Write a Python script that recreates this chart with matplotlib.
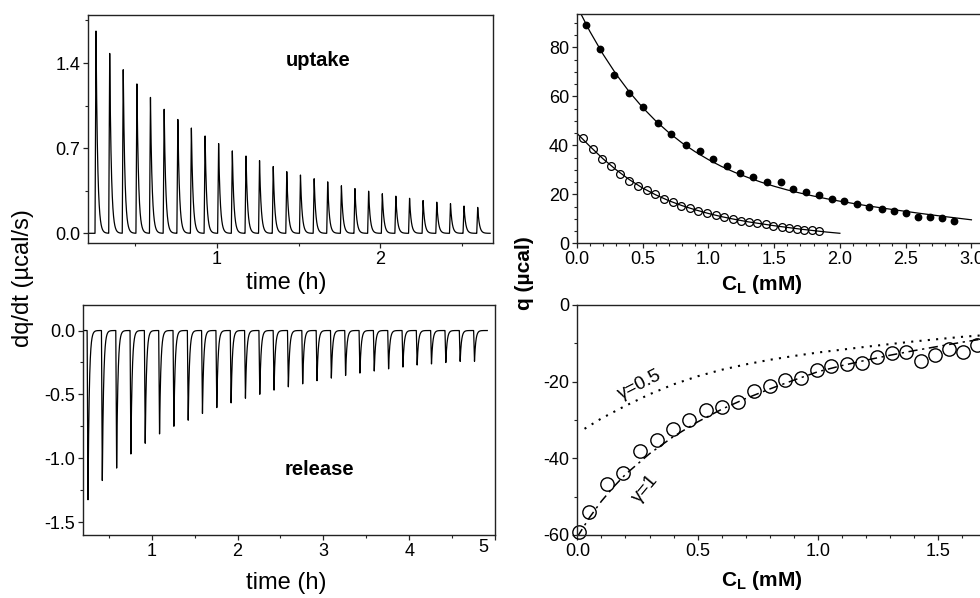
#ITC thermograms and integrated heats

#importing the libraries
import numpy as np
import matplotlib
matplotlib.use('Agg')
import matplotlib.pyplot as plt
from matplotlib.ticker import MultipleLocator, FormatStrFormatter

plt.rcParams['font.family'] = ['Liberation Sans', 'DejaVu Sans']
plt.rcParams['axes.unicode_minus'] = False
plt.rcParams['mathtext.fontset'] = 'custom'
plt.rcParams['mathtext.rm'] = 'Liberation Sans'
plt.rcParams['mathtext.bf'] = 'Liberation Sans:bold'

#uptake thermogram: injection times (h) and peak heights (ucal/s)
uptake_t = [0.258, 0.342, 0.425, 0.509, 0.592, 0.676, 0.760, 0.843, 0.927, 1.010,
            1.094, 1.178, 1.261, 1.345, 1.428, 1.512, 1.596, 1.679, 1.763, 1.846,
            1.930, 2.014, 2.097, 2.181, 2.264, 2.348, 2.432, 2.515, 2.599]
uptake_h = [1.672, 1.495, 1.359, 1.229, 1.120, 1.028, 0.946, 0.870, 0.802, 0.742,
            0.685, 0.639, 0.598, 0.552, 0.511, 0.484, 0.449, 0.424, 0.394, 0.372,
            0.348, 0.326, 0.307, 0.291, 0.272, 0.256, 0.245, 0.226, 0.215]

#release thermogram
release_t = [0.257, 0.424, 0.591, 0.757, 0.924, 1.091, 1.258, 1.425, 1.591, 1.758,
             1.925, 2.092, 2.259, 2.425, 2.592, 2.759, 2.926, 3.093, 3.259, 3.426,
             3.593, 3.760, 3.927, 4.093, 4.260, 4.427, 4.594, 4.761]
release_h = [-1.338, -1.186, -1.081, -0.971, -0.890, -0.819, -0.754, -0.702, -0.654, -0.610,
             -0.571, -0.531, -0.500, -0.471, -0.445, -0.419, -0.393, -0.374, -0.356, -0.335,
             -0.317, -0.301, -0.288, -0.272, -0.262, -0.251, -0.243, -0.243]

#integrated heats, uptake (filled) and release... (open), top right
cl_filled = [0.068, 0.177, 0.286, 0.400, 0.506, 0.615, 0.719, 0.828, 0.934, 1.038,
             1.144, 1.241, 1.342, 1.443, 1.549, 1.646, 1.742, 1.841, 1.937, 2.033,
             2.132, 2.223, 2.319, 2.413, 2.501, 2.595, 2.684, 2.775, 2.866]
q_filled = [89.1, 79.2, 68.8, 61.5, 55.5, 49.3, 44.5, 40.3, 37.8, 34.3,
            31.7, 28.8, 27.2, 25.0, 25.0, 22.3, 21.0, 19.6, 18.0, 17.3,
            16.2, 15.0, 14.0, 13.1, 12.5, 10.7, 10.7, 10.2, 9.3]
cl_open = [0.051, 0.124, 0.190, 0.258, 0.329, 0.397, 0.463, 0.532, 0.595, 0.661,
           0.729, 0.795, 0.861, 0.924, 0.990, 1.056, 1.119, 1.185, 1.248, 1.311,
           1.372, 1.435, 1.494, 1.557, 1.615, 1.673, 1.729, 1.787, 1.843]
q_open = [43.1, 38.4, 34.6, 31.7, 28.2, 25.6, 23.4, 21.8, 20.1, 18.0,
          16.7, 15.2, 14.6, 13.2, 12.2, 11.6, 10.6, 9.9, 9.0, 8.8,
          8.2, 7.8, 7.2, 6.7, 6.3, 5.8, 5.6, 5.3, 4.9]

#fit curves
fit1_c = [0.0, 0.1, 0.2, 0.3, 0.4, 0.5, 0.6, 0.7, 0.8, 0.9, 1.0, 1.1, 1.2, 1.3,
          1.4, 1.5, 1.6, 1.7, 1.8, 1.9, 2.0, 2.2, 2.4, 2.6, 2.8, 3.0]
fit1_q = [97.0, 86.5, 77.2, 69.0, 61.8, 55.5, 50.0, 45.2, 41.0, 37.4, 34.2, 31.4, 29.0, 26.9,
          25.0, 23.3, 21.8, 20.5, 19.3, 18.2, 17.2, 15.4, 13.8, 12.3, 10.9, 9.6]
fit2_c = [0.0, 0.1, 0.2, 0.3, 0.4, 0.5, 0.6, 0.7, 0.8, 0.9, 1.0,
          1.1, 1.2, 1.3, 1.4, 1.5, 1.6, 1.7, 1.8, 1.9, 2.0]
fit2_q = [45.0, 39.6, 34.5, 30.0, 26.0, 22.6, 19.8, 17.4, 15.4, 13.7, 12.2,
          10.9, 9.8, 8.8, 8.0, 7.2, 6.5, 5.8, 5.2, 4.6, 4.1]

#bottom right: release heats and two model curves
cl_rel = [0.008, 0.050, 0.122, 0.191, 0.260, 0.330, 0.397, 0.465, 0.533, 0.600,
          0.666, 0.734, 0.800, 0.864, 0.929, 0.994, 1.056, 1.119, 1.181, 1.244,
          1.306, 1.366, 1.428, 1.486, 1.544, 1.604, 1.662]
q_rel = [-59.3, -54.1, -46.8, -43.9, -38.1, -35.3, -32.4, -30.1, -27.3, -26.7,
         -25.4, -22.4, -21.2, -19.6, -19.1, -17.0, -15.8, -15.4, -15.1, -13.7,
         -12.5, -12.3, -14.6, -13.1, -11.6, -12.2, -10.5]
g1_c = [0.0, 0.05, 0.1, 0.15, 0.2, 0.3, 0.4, 0.5, 0.6, 0.7, 0.8, 0.9,
        1.0, 1.1, 1.2, 1.3, 1.4, 1.5, 1.6, 1.7]
g1_q = [-60.5, -55.5, -51.2, -47.5, -44.2, -38.8, -34.3, -30.5, -27.2, -24.4, -21.9, -19.6,
        -17.4, -15.8, -14.4, -13.1, -11.9, -10.8, -9.7, -8.7]
g05_c = [0.03, 0.1, 0.2, 0.3, 0.4, 0.5, 0.6, 0.7, 0.8, 0.9, 1.0, 1.2, 1.4, 1.6, 1.75]
g05_q = [-32.3, -29.6, -26.3, -23.3, -20.7, -18.6, -16.9, -15.5, -14.3, -13.3, -12.4,
         -10.9, -9.5, -8.3, -7.6]


def trace(t, times, heights, rise, tau):
    # sharp rise then exponential return to baseline for each injection
    y = np.zeros_like(t)
    for t0, h in zip(times, heights):
        up = (t >= t0 - rise) & (t < t0)
        y[up] += h * (t[up] - (t0 - rise)) / rise
        down = t >= t0
        y[down] += h * np.exp(-(t[down] - t0) / tau)
    return y


def style(ax, fs=13):
    for s in ax.spines.values():
        s.set_linewidth(1.0)
        s.set_color('#222222')
    ax.tick_params(which='both', direction='out', top=False, right=False,
                   labelsize=fs, color='#222222', pad=2)
    ax.tick_params(which='major', length=3.5, width=0.9)
    ax.tick_params(which='minor', length=2.2, width=0.8)


fig = plt.figure(figsize=(9.8, 5.98), dpi=100)

#top left - uptake
ax1 = fig.add_axes([0.0898, 0.5936, 0.4133, 0.3813])
t1 = np.linspace(0.215, 2.675, 12000)
ax1.plot(t1, trace(t1, uptake_t, uptake_h, 0.006, 0.010), color='black', lw=0.9)
ax1.set_xlim(0.209, 2.693)
ax1.set_ylim(-0.08, 1.795)
ax1.set_xticks([1, 2])
ax1.xaxis.set_minor_locator(MultipleLocator(0.5))
ax1.set_yticks([0.0, 0.7, 1.4])
ax1.yaxis.set_minor_locator(MultipleLocator(0.35))
ax1.yaxis.set_major_formatter(FormatStrFormatter('%.1f'))
ax1.text(1.62, 1.425, 'uptake', fontsize=14.5, fontweight='bold', ha='center', va='center')
style(ax1)

#bottom left - release
ax2 = fig.add_axes([0.0847, 0.1054, 0.4204, 0.3846])
t2 = np.linspace(0.2, 4.91, 15000)
ax2.plot(t2, trace(t2, release_t, release_h, 0.010, 0.015), color='black', lw=0.9)
ax2.set_xlim(0.199, 4.984)
ax2.set_ylim(-1.6, 0.2)
ax2.set_xticks([1, 2, 3, 4, 5])
ax2.set_xticklabels(['1', '2', '3', '4', ''])
ax2.xaxis.set_minor_locator(MultipleLocator(0.5))
ax2.set_yticks([0.0, -0.5, -1.0, -1.5])
ax2.yaxis.set_minor_locator(MultipleLocator(0.25))
ax2.yaxis.set_major_formatter(FormatStrFormatter('%.1f'))
ax2.text(4.86, -0.055, '5', fontsize=13, ha='center', va='center',
         transform=ax2.get_xaxis_transform())
ax2.text(2.95, -1.086, 'release', fontsize=14.5, fontweight='bold', ha='center', va='center')
style(ax2)

#top right - integrated heats
ax3 = fig.add_axes([0.5885, 0.5931, 0.4296, 0.3834])
ax3.plot(fit1_c, fit1_q, color='black', lw=0.9)
ax3.plot(fit2_c, fit2_q, color='black', lw=0.9)
ax3.plot(cl_filled, q_filled, 'o', color='black', ms=4.6)
ax3.plot(cl_open, q_open, 'o', mfc='none', mec='black', mew=0.9, ms=5.6)
ax3.set_xlim(0, 3.2)
ax3.set_ylim(0, 93.6)
ax3.set_xticks([0.0, 0.5, 1.0, 1.5, 2.0, 2.5, 3.0])
ax3.xaxis.set_major_formatter(FormatStrFormatter('%.1f'))
ax3.xaxis.set_minor_locator(MultipleLocator(0.1))
ax3.set_yticks([0, 20, 40, 60, 80])
ax3.yaxis.set_minor_locator(MultipleLocator(5))
style(ax3)

#bottom right - release heats with gamma curves
ax4 = fig.add_axes([0.5891, 0.1054, 0.4298, 0.3846])
ax4.plot(g05_c, g05_q, color='black', lw=1.5, linestyle=(0, (1, 3)))
ax4.plot(g1_c, g1_q, color='black', lw=1.1, linestyle=(0, (6, 3, 1.5, 3)))
ax4.plot(cl_rel, q_rel, 'o', mfc='none', mec='black', mew=1.0, ms=9.6, clip_on=False)
ax4.set_xlim(0, 1.75)
ax4.set_ylim(-60, 0)
ax4.set_xticks([0.0, 0.5, 1.0, 1.5])
ax4.xaxis.set_major_formatter(FormatStrFormatter('%.1f'))
ax4.xaxis.set_minor_locator(MultipleLocator(0.1))
ax4.set_yticks([0, -20, -40, -60])
ax4.yaxis.set_minor_locator(MultipleLocator(10))
ax4.text(0.26, -20.9, '\u03b3=0.5', fontsize=13.5, rotation=27, ha='center', va='center',
         rotation_mode='anchor')
ax4.text(0.281, -47.9, '\u03b3=1', fontsize=13.5, rotation=50, ha='center', va='center',
         rotation_mode='anchor')
style(ax4)

#axis labels
fig.text(286 / 980, 1 - 283 / 598, 'time (h)', fontsize=17, ha='center', va='center')
fig.text(286 / 980, 1 - 583 / 598, 'time (h)', fontsize=17, ha='center', va='center')
fig.text(23 / 980, 1 - 278 / 598, 'dq/dt (\u00b5cal/s)', fontsize=17, rotation=90,
         ha='center', va='center')
fig.text(762 / 980, 1 - 284 / 598, r'C$_\mathbf{L}$ (mM)', fontsize=15, fontweight='bold',
         ha='center', va='center')
fig.text(762 / 980, 1 - 581 / 598, r'C$_\mathbf{L}$ (mM)', fontsize=15, fontweight='bold',
         ha='center', va='center')
fig.text(524 / 980, 1 - 273 / 598, 'q (\u00b5cal)', fontsize=15, fontweight='bold', rotation=90,
         ha='center', va='center')

fig.savefig('out.png', dpi=100)
